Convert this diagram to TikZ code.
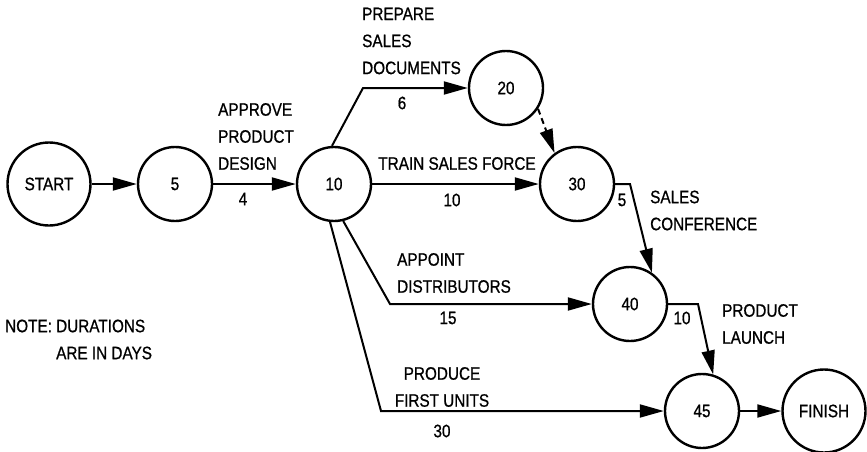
\documentclass[tikz,border=0pt]{standalone}
\usepackage{fontspec}
\setmainfont{Liberation Sans}[FakeStretch=0.85,FakeBold=0.8]
\usetikzlibrary{arrows.meta}
\begin{document}
\begin{tikzpicture}[x=1pt,y=-1pt,
  every node/.style={font=\fontsize{18}{27}\selectfont},
  ev/.style={circle,draw,line width=2.4pt,minimum size=74pt,inner sep=0pt},
  big/.style={ev,minimum size=83pt},
  lbl/.style={inner sep=0pt},
  arr/.style={line width=2pt,-{Triangle[length=24pt,width=13pt]}},
  dsh/.style={arr,dash pattern=on 6pt off 4pt}]
\useasboundingbox (0,0) rectangle (867,452);
% events
\node[big] (start) at (49,184) {START};
\node[ev] (n5) at (175,184) {5};
\node[ev] (n10) at (334,184) {10};
\node[ev] (n20) at (506,88) {20};
\node[ev] (n30) at (577,184) {30};
\node[ev] (n40) at (630,304) {40};
\node[ev] (n45) at (702,411) {45};
\node[big] (fin) at (824,411) {FINISH};
% bend points
\coordinate (c1) at (363,88);
\coordinate (c2) at (390,304);
\coordinate (c3) at (630,184);
\coordinate (c4) at (698,304);
\coordinate (c5) at (381,411);
% activities
\draw[arr] (start) -- (n5);
\draw[arr] (n5) -- (n10);
\draw[arr] (n10.93) -- (c1) -- (n20);
\draw[dsh] (n20.-33) -- (n30.126);
\draw[arr] (n10) -- (n30);
\draw[arr] (n30.east) -- (c3) -- (n40.55);
\draw[arr] (n10.-76) -- (c2) -- (n40);
\draw[arr] (n10.-96) -- (c5) -- (n45);
\draw[arr] (n40.east) -- (c4) -- (n45.73);
\draw[arr] (n45) -- (fin);
% labels
\node[lbl,align=left,anchor=west] (lApprove) at (218,136.5) {APPROVE\\PRODUCT\\DESIGN};
\node[lbl] (d4) at (243,199) {4};
\node[lbl,align=left,anchor=west] (lPrep) at (362,41) {PREPARE\\SALES\\DOCUMENTS};
\node[lbl] (d6) at (402,103) {6};
\node[lbl] (lTrain) at (457,163.5) {TRAIN SALES FORCE};
\node[lbl] (d10a) at (452,200) {10};
\node[lbl] (d5) at (622,200) {5};
\node[lbl,align=left,anchor=west] (lConf) at (650,210.5) {SALES\\CONFERENCE};
\node[lbl,align=left,anchor=west] (lAppoint) at (397,273) {APPOINT\\DISTRIBUTORS};
\node[lbl] (d15) at (448,318) {15};
\node[lbl,align=left,anchor=west] (lLaunch) at (722,324) {PRODUCT\\LAUNCH};
\node[lbl] (d10b) at (682,318) {10};
\node[lbl,align=center] (lProduce) at (442,387) {PRODUCE\\FIRST UNITS};
\node[lbl] (d30) at (442,431) {30};
\node[lbl,align=left,anchor=west] (note) at (5,339.5) {NOTE: DURATIONS\\\hphantom{NOTE: }ARE IN DAYS};
\end{tikzpicture}
\end{document}
